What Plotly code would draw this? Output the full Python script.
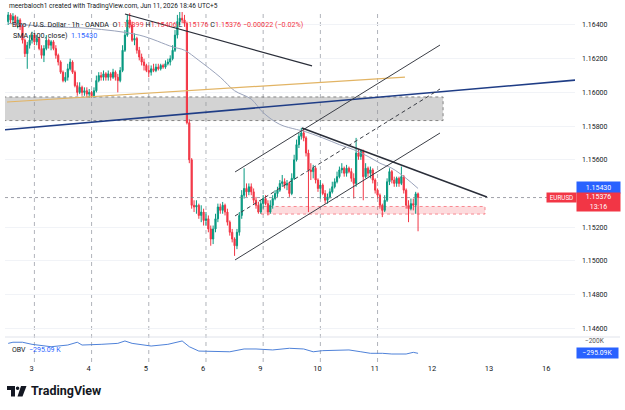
import plotly.graph_objects as go

# ---------------- data (1h EUR/USD bars, hour index relative to start of day "3") ----------------
hours = list(range(-11, 162))
first_open = 1.1642
close = [
    1.1646, 1.1643, 1.1645, 1.1641, 1.1643, 1.1639, 1.1631, 1.1623, 1.1628, 1.1631, 1.1634,
    1.1630, 1.1632, 1.1626, 1.1622, 1.1626, 1.1631, 1.1628, 1.1630, 1.1626, 1.1622, 1.1618, 1.1612,
    1.1607, 1.1609, 1.1614, 1.1618, 1.1612, 1.1604, 1.1600, 1.1603, 1.1600, 1.1601, 1.1599, 1.1600,
    1.1598, 1.1601, 1.1607, 1.1610, 1.1609, 1.1611, 1.1609, 1.1611, 1.1609, 1.1612, 1.1609, 1.1607,
    1.1613, 1.1625, 1.1634, 1.1643, 1.1640, 1.1631, 1.1632, 1.1625, 1.1621, 1.1618, 1.1616, 1.1613,
    1.1612, 1.1614, 1.1613, 1.1615, 1.1614, 1.1616, 1.1615, 1.1617, 1.1618, 1.1620, 1.1625, 1.1634,
    1.1642, 1.1644, 1.1643, 1.1641, 1.1582, 1.1560, 1.1533, 1.1532, 1.1533, 1.1527, 1.1529, 1.1524,
    1.1525, 1.1519, 1.1513, 1.1519, 1.1525, 1.1532, 1.1530, 1.1533, 1.1529, 1.1523, 1.1517, 1.1513,
    1.1509, 1.1517, 1.1527, 1.1539, 1.1543, 1.1541, 1.1544, 1.1541, 1.1536, 1.1533, 1.1529, 1.1534,
    1.1537, 1.1534, 1.1529, 1.1533, 1.1537, 1.1540, 1.1542, 1.1546, 1.1547, 1.1545, 1.1546, 1.1540,
    1.1549, 1.1560, 1.1569, 1.1574, 1.1576, 1.1573, 1.1564, 1.1554, 1.1553, 1.1555, 1.1548, 1.1543,
    1.1545, 1.1540, 1.1536, 1.1538, 1.1541, 1.1544, 1.1547, 1.1550, 1.1554, 1.1555, 1.1552, 1.1555,
    1.1553, 1.1549, 1.1546, 1.1564, 1.1562, 1.1565, 1.1550, 1.1555, 1.1552, 1.1554, 1.1548, 1.1542,
    1.1539, 1.1533, 1.1530, 1.1536, 1.1547, 1.1553, 1.1548, 1.1546, 1.1549, 1.1546, 1.1550, 1.1542,
    1.1533, 1.1531, 1.1534, 1.1533, 1.15398, 1.15376,
]
high = [
    1.1648, 1.1647, 1.1647, 1.1646, 1.1645, 1.1644, 1.1640, 1.1632, 1.1630, 1.1634, 1.1636,
    1.1635, 1.1634, 1.1633, 1.1628, 1.1628, 1.1634, 1.1632, 1.1631, 1.1631, 1.1628, 1.1623, 1.1619,
    1.1613, 1.1612, 1.1617, 1.1620, 1.1619, 1.1613, 1.1606, 1.1606, 1.1604, 1.1603, 1.1603, 1.1602,
    1.1601, 1.1603, 1.1610, 1.1612, 1.1612, 1.1613, 1.1612, 1.1613, 1.1612, 1.1614, 1.1613, 1.1611,
    1.1615, 1.1628, 1.1637, 1.1646, 1.1647, 1.1642, 1.1635, 1.1633, 1.1627, 1.1623, 1.1620, 1.1617,
    1.1616, 1.1616, 1.1617, 1.1617, 1.1617, 1.1617, 1.1617, 1.1619, 1.1620, 1.1622, 1.1628, 1.1637,
    1.1646, 1.1649, 1.1648, 1.1646, 1.1642, 1.1584, 1.1561, 1.1536, 1.1536, 1.1534, 1.1533, 1.1531,
    1.1529, 1.1527, 1.1521, 1.1521, 1.1528, 1.1534, 1.1534, 1.1535, 1.1534, 1.1531, 1.1524, 1.1519,
    1.1514, 1.1519, 1.1529, 1.1542, 1.1555, 1.1546, 1.1546, 1.1546, 1.1543, 1.1538, 1.1535, 1.1536,
    1.1539, 1.1539, 1.1536, 1.1536, 1.1539, 1.1542, 1.1544, 1.1548, 1.1551, 1.1549, 1.1548, 1.1547,
    1.1552, 1.1563, 1.1572, 1.1576, 1.1579, 1.1578, 1.1574, 1.1566, 1.1558, 1.1557, 1.1556, 1.1549,
    1.1548, 1.1546, 1.1542, 1.1540, 1.1543, 1.1547, 1.1549, 1.1553, 1.1556, 1.1558, 1.1556, 1.1557,
    1.1556, 1.1555, 1.1552, 1.1573, 1.1566, 1.1566, 1.1566, 1.1558, 1.1556, 1.1556, 1.1555, 1.1549,
    1.1543, 1.1540, 1.1534, 1.1539, 1.1549, 1.1555, 1.1554, 1.1550, 1.1550, 1.1550, 1.1556, 1.1551,
    1.1543, 1.1536, 1.1537, 1.1537, 1.1541, 1.15406,
]
low = [
    1.1640, 1.1641, 1.1641, 1.1639, 1.1638, 1.1637, 1.1629, 1.1621, 1.1614, 1.1626, 1.1629,
    1.1628, 1.1628, 1.1625, 1.1620, 1.1618, 1.1625, 1.1626, 1.1625, 1.1625, 1.1620, 1.1616, 1.1611,
    1.1606, 1.1606, 1.1607, 1.1613, 1.1611, 1.1603, 1.1598, 1.1599, 1.1598, 1.1598, 1.1597, 1.1597,
    1.1597, 1.1597, 1.1600, 1.1606, 1.1607, 1.1607, 1.1607, 1.1607, 1.1607, 1.1608, 1.1607, 1.1600,
    1.1606, 1.1612, 1.1624, 1.1633, 1.1638, 1.1630, 1.1628, 1.1623, 1.1619, 1.1616, 1.1613, 1.1612,
    1.1609, 1.1610, 1.1612, 1.1612, 1.1613, 1.1613, 1.1614, 1.1614, 1.1616, 1.1616, 1.1619, 1.1624,
    1.1632, 1.1640, 1.1641, 1.1639, 1.1581, 1.1558, 1.1531, 1.1529, 1.1528, 1.1525, 1.1523, 1.1521,
    1.1521, 1.1517, 1.1509, 1.1510, 1.1517, 1.1523, 1.1528, 1.1528, 1.1527, 1.1521, 1.1515, 1.1511,
    1.1503, 1.1507, 1.1515, 1.1525, 1.1537, 1.1538, 1.1539, 1.1539, 1.1534, 1.1531, 1.1528, 1.1528,
    1.1531, 1.1533, 1.1527, 1.1528, 1.1531, 1.1536, 1.1538, 1.1541, 1.1544, 1.1543, 1.1542, 1.1538,
    1.1539, 1.1548, 1.1559, 1.1567, 1.1572, 1.1571, 1.1562, 1.1529, 1.1548, 1.1549, 1.1546, 1.1541,
    1.1537, 1.1539, 1.1534, 1.1534, 1.1537, 1.1540, 1.1543, 1.1546, 1.1549, 1.1552, 1.1550, 1.1550,
    1.1552, 1.1547, 1.1537, 1.1544, 1.1560, 1.1560, 1.1536, 1.1549, 1.1550, 1.1549, 1.1546, 1.1540,
    1.1537, 1.1531, 1.1526, 1.1529, 1.1535, 1.1545, 1.1546, 1.1544, 1.1544, 1.1544, 1.1545, 1.1540,
    1.1531, 1.1523, 1.1530, 1.1530, 1.1528, 1.15176,
]
open_ = [first_open] + close[:-1]

sma_hours = [-11, 6, 23, 44, 58, 63, 69, 78, 84, 91, 96, 103, 110, 113, 121, 128, 134, 140, 145, 150, 156, 161]
sma_vals = [1.1641, 1.1639, 1.1638, 1.1634, 1.1627, 1.1625, 1.1619, 1.1609, 1.1601, 1.1596, 1.1588,
            1.1581, 1.1578, 1.1577, 1.1573, 1.1569, 1.1566, 1.1562, 1.1558, 1.1555, 1.1549, 1.1543]

obv_hours = [-11, -9, -5, -1, 7, 14, 18, 20, 28, 35, 38, 41, 49, 56, 62, 65, 69, 77, 82, 88,
             93, 100, 107, 113, 117, 121, 127, 132, 137, 141, 146, 150, 156, 159, 161]
obv_k = [-224, -216, -216, -231, -248, -236, -216, -236, -231, -224, -207, -224, -243, -231, -207,
         -248, -279, -279, -284, -264, -264, -271, -259, -264, -284, -276, -276, -271, -284, -295,
         -295, -300, -300, -288, -295.09]

day_hours = [0, 24, 48, 72, 96, 120, 144, 168, 192, 216]
day_labels = ["3", "4", "5", "6", "9", "10", "11", "12", "13", "16"]
session_breaks = [0, 24, 48, 72, 96, 120, 144]
price_ticks = [1.146, 1.148, 1.150, 1.152, 1.156, 1.158, 1.160, 1.162, 1.164]

# drawings: (hour, price) endpoints
gray_zone = (-13, 171.5, 1.15833, 1.15973)
pink_zone = (95.1, 189.1, 1.15278, 1.15323)
yellow_line = ((-11.5, 1.15943), (155.5, 1.16091))
blue_line = ((-13, 1.15778), (228, 1.16074))
top_line = ((38.0, 1.16465), (116.5, 1.16157))
chan_upper = ((84.2, 1.15528), (170.2, 1.16281))
chan_mid = ((84.2, 1.15267), (170.2, 1.16020))
chan_lower = ((84.2, 1.15006), (170.2, 1.15759))
desc_line = ((112.3, 1.15789), (189.9, 1.15379))

last_price = 1.15376
sma_last = 1.15430

UP, DN = "#089981", "#f23645"
BLUE = "#2962ff"
TXT = "#131722"
FONT = "Roboto, Arial, sans-serif"

# pixel helpers for layout placement
L_PX, R_PX, T_PX, B_PX = 5, 575, 12, 362
def fx(px):
    return (px - L_PX) / (R_PX - L_PX)
def fy(py):
    return (B_PX - py) / (B_PX - T_PX)

fig = go.Figure()
fig.add_trace(go.Candlestick(
    x=hours, open=open_, high=high, low=low, close=close,
    increasing=dict(line=dict(color=UP, width=1), fillcolor=UP),
    decreasing=dict(line=dict(color=DN, width=1), fillcolor=DN),
    whiskerwidth=0, hoverinfo="skip", showlegend=False, xaxis="x", yaxis="y"))
fig.add_trace(go.Scatter(x=sma_hours, y=sma_vals, mode="lines",
                         line=dict(color="#9aa3bb", width=1, shape="spline"),
                         hoverinfo="skip", showlegend=False, xaxis="x", yaxis="y"))
fig.add_trace(go.Scatter(x=obv_hours, y=obv_k, mode="lines",
                         line=dict(color="#4f82d9", width=1),
                         hoverinfo="skip", showlegend=False, xaxis="x", yaxis="y2"))

shapes = []
for d in session_breaks:
    shapes.append(dict(type="line", xref="x", yref="paper", x0=d, x1=d, y0=0, y1=1,
                       line=dict(color="rgba(150,153,163,0.75)", width=1, dash="4px,4px"), layer="below"))
# pane separator
shapes.append(dict(type="line", xref="paper", yref="paper", x0=0, x1=fx(620), y0=fy(337), y1=fy(337),
                   line=dict(color="#e0e3eb", width=1)))
# zones
shapes.append(dict(type="rect", xref="x", yref="y", x0=gray_zone[0], x1=gray_zone[1],
                   y0=gray_zone[2], y1=gray_zone[3], fillcolor="rgba(150,150,150,0.42)",
                   line=dict(color="rgba(110,110,110,0.8)", width=1, dash="dot"), layer="below"))
shapes.append(dict(type="rect", xref="x", yref="y", x0=pink_zone[0], x1=pink_zone[1],
                   y0=pink_zone[2], y1=pink_zone[3], fillcolor="rgba(242,54,69,0.18)",
                   line=dict(color="rgba(242,54,69,0.55)", width=1, dash="dot"), layer="below"))
# current price line
shapes.append(dict(type="line", xref="paper", yref="y", x0=0, x1=1, y0=last_price, y1=last_price,
                   line=dict(color="rgba(120,123,134,0.7)", width=1, dash="dot")))

def seg(ln, color, width, dash="solid"):
    (x0, y0), (x1, y1) = ln
    return dict(type="line", xref="x", yref="y", x0=x0, y0=y0, x1=x1, y1=y1,
                line=dict(color=color, width=width, dash=dash))

shapes += [
    seg(yellow_line, "#e2b464", 1.2),
    seg(blue_line, "#1f3d86", 1.6),
    seg(top_line, "#2a2e39", 1.2),
    seg(chan_upper, "#3b3e46", 1),
    seg(chan_mid, "#3b3e46", 1, "4px,3px"),
    seg(chan_lower, "#3b3e46", 1),
    seg(desc_line, "#2a2e39", 1.5),
]

# TradingView logo glyph
shapes += [
    dict(type="rect", xref="paper", yref="paper", x0=fx(7), x1=fx(15), y0=fy(390), y1=fy(386),
         fillcolor=TXT, line=dict(width=0)),
    dict(type="rect", xref="paper", yref="paper", x0=fx(11), x1=fx(15), y0=fy(396.5), y1=fy(386),
         fillcolor=TXT, line=dict(width=0)),
    dict(type="circle", xref="paper", yref="paper", x0=fx(15.8), x1=fx(19.4), y0=fy(390), y1=fy(386.4),
         fillcolor=TXT, line=dict(width=0)),
]
p = [(21, 386), (26.5, 386), (22.5, 396.5), (17.5, 396.5)]
path = "M " + " L ".join(f"{fx(a):.5f},{fy(b):.5f}" for a, b in p) + " Z"
shapes.append(dict(type="path", xref="paper", yref="paper", path=path, fillcolor=TXT, line=dict(width=0)))

anns = []
def ann(text, px, py, size=7.2, color=TXT, xanchor="left", **kw):
    anns.append(dict(text=text, xref="paper", yref="paper", x=fx(px), y=fy(py), xanchor=xanchor,
                     yanchor="middle", showarrow=False, font=dict(size=size, color=color, family=FONT), **kw))

red = lambda s: f'<span style="color:{DN}">{s}</span>'
ann("meerbaloch1 created with TradingView.com, Jun 11, 2026 18:46 UTC+5", 7, 6.5, 6.6)
ann("Euro / U.S. Dollar · 1h · OANDA  O" + red("1.15399") + " H" + red("1.15406") + " L" + red("1.15176")
    + " C" + red("1.15376") + " " + red("−0.00022 (−0.02%)"), 10, 24.5, 7.2)
ann(f'SMA (100, close)  <span style="color:{BLUE}">1.15430</span>', 11, 35, 7.2)
ann(f'OBV  <span style="color:{BLUE}">−295.09 K</span>', 10, 350, 7)
ann("<b>TradingView</b>", 29, 391, 12.5)
ann("−200K", 583, 340.5, 6.5, "#555")

def box(text, x0, x1, y0, y1, bg, size=7):
    anns.append(dict(text=text, xref="paper", yref="paper", x=fx((x0 + x1) / 2), y=fy((y0 + y1) / 2),
                     xanchor="center", yanchor="middle", showarrow=False, bgcolor=bg, borderpad=0,
                     width=x1 - x0, height=y1 - y0, align="center",
                     font=dict(size=size, color="white", family=FONT)))

box("EURUSD", 547, 576, 193, 202, DN, 6.3)
box("1.15430", 577, 620, 182, 193, BLUE)
box("1.15376<br>13:16", 577, 620, 193, 211, DN)
box("−295.09K", 577, 618, 348, 358, BLUE, 6.8)

fig.update_layout(
    width=625, height=410, margin=dict(l=L_PX, r=625 - R_PX, t=T_PX, b=410 - B_PX),
    paper_bgcolor="white", plot_bgcolor="white", showlegend=False,
    font=dict(family=FONT, color=TXT),
    shapes=shapes, annotations=anns,
    xaxis=dict(range=[(L_PX - 34.4) / 2.383, (R_PX - 34.4) / 2.383], anchor="y2",
               tickmode="array", tickvals=[d - 1.2 for d in day_hours], ticktext=day_labels,
               showgrid=False, zeroline=False, showline=False, ticks="",
               tickfont=dict(size=7.5, color=TXT), rangeslider=dict(visible=False)),
    yaxis=dict(domain=[fy(337), 1], range=[1.145486, 1.164771], side="right",
               tickmode="array", tickvals=price_ticks, ticktext=[f"{v:.5f}" for v in price_ticks],
               showgrid=True, gridcolor="#f1f3f7", zeroline=False, showline=False, ticks="",
               ticklabelstandoff=6, tickfont=dict(size=7, color=TXT)),
    yaxis2=dict(domain=[0, fy(337)], range=[-357, -178.6], side="right", showticklabels=False,
                showgrid=False, zeroline=False, showline=False),
)

fig.write_html("out.html")
